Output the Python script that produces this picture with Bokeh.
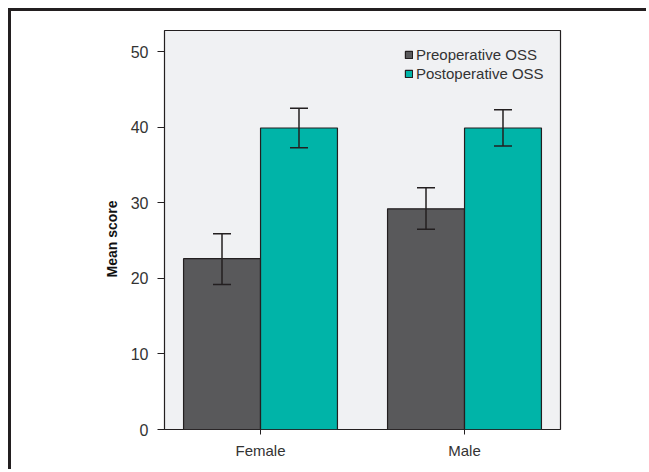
from bokeh.plotting import figure
from bokeh.models import ColumnDataSource, Whisker, Legend, LegendItem, FixedTicker, TeeHead, Title
from bokeh.embed import file_html
from bokeh.resources import INLINE

categories = ["Female", "Male"]
series = ["Preoperative OSS", "Postoperative OSS"]
pre_mean = [22.6, 29.2]
pre_lower = [19.2, 26.5]
pre_upper = [25.9, 32.0]
post_mean = [39.9, 39.9]
post_lower = [37.3, 37.5]
post_upper = [42.5, 42.3]
y_ticks = [0, 10, 20, 30, 40, 50]
y_title = "Mean score"

colors = ["#59595b", "#00b4a8"]
edge = "#231f20"
offset = 0.1887
bar_w = 0.377

idx = list(range(len(categories)))
pre_src = ColumnDataSource(dict(x=[i - offset for i in idx], top=pre_mean, lo=pre_lower, hi=pre_upper))
post_src = ColumnDataSource(dict(x=[i + offset for i in idx], top=post_mean, lo=post_lower, hi=post_upper))

W, H = 638, 461
p = figure(width=W, height=H, output_backend="svg", toolbar_location=None,
           x_range=(-0.4706, 1.4706), y_range=(0, 52.8),
           min_border_left=153, min_border_right=89, min_border_top=19, min_border_bottom=43)
p.styles = {"border-top": "3px solid #231f20", "border-left": "3px solid #231f20",
            "margin-top": "8px", "margin-left": "8px"}

p.background_fill_color = "#f0f1f3"
p.border_fill_color = "white"
p.outline_line_color = edge
p.outline_line_width = 1.2
p.grid.visible = False

r1 = p.vbar(x="x", top="top", width=bar_w, source=pre_src, fill_color=colors[0], line_color=edge, line_width=1.2)
r2 = p.vbar(x="x", top="top", width=bar_w, source=post_src, fill_color=colors[1], line_color=edge, line_width=1.2)

for src in (pre_src, post_src):
    w = Whisker(base="x", lower="lo", upper="hi", source=src, line_color=edge, line_width=1.5,
                level="overlay",
                upper_head=TeeHead(size=18, line_color=edge, line_width=1.5),
                lower_head=TeeHead(size=18, line_color=edge, line_width=1.5))
    p.add_layout(w)

# axes
p.yaxis.ticker = FixedTicker(ticks=y_ticks)
p.yaxis.minor_tick_line_color = None
p.yaxis.major_tick_out = 7
p.yaxis.major_tick_in = 0
p.yaxis.major_tick_line_color = edge
p.yaxis.axis_line_color = None
p.yaxis.major_label_text_font = "Liberation Sans"
p.yaxis.major_label_text_font_size = "16px"
p.yaxis.major_label_text_color = "#333333"
p.yaxis.major_label_standoff = 9

p.add_layout(Title(text=y_title, align="left", offset=152, standoff=15,
                   text_font="Liberation Sans", text_font_style="bold",
                   text_font_size="14px", text_color="#111111"), "left")

p.xaxis.ticker = FixedTicker(ticks=idx)
p.xaxis.major_label_overrides = {i: c for i, c in zip(idx, categories)}
p.xaxis.minor_tick_line_color = None
p.xaxis.major_tick_out = 5
p.xaxis.major_tick_in = 0
p.xaxis.major_tick_line_color = edge
p.xaxis.axis_line_color = None
p.xaxis.major_label_text_font = "Liberation Sans"
p.xaxis.major_label_text_font_size = "15px"
p.xaxis.major_label_text_color = "#333333"
p.xaxis.major_label_standoff = 7

legend = Legend(items=[LegendItem(label=series[0], renderers=[r1]),
                       LegendItem(label=series[1], renderers=[r2])],
                location=(240, 347), padding=0, margin=0, spacing=2,
                glyph_width=9, glyph_height=9, label_height=15, label_standoff=3,
                label_text_font="Liberation Sans", label_text_font_size="15px",
                label_text_color="#333333",
                background_fill_alpha=0, border_line_color=None)
p.add_layout(legend)

open("out.html", "w").write(file_html(p, INLINE))
